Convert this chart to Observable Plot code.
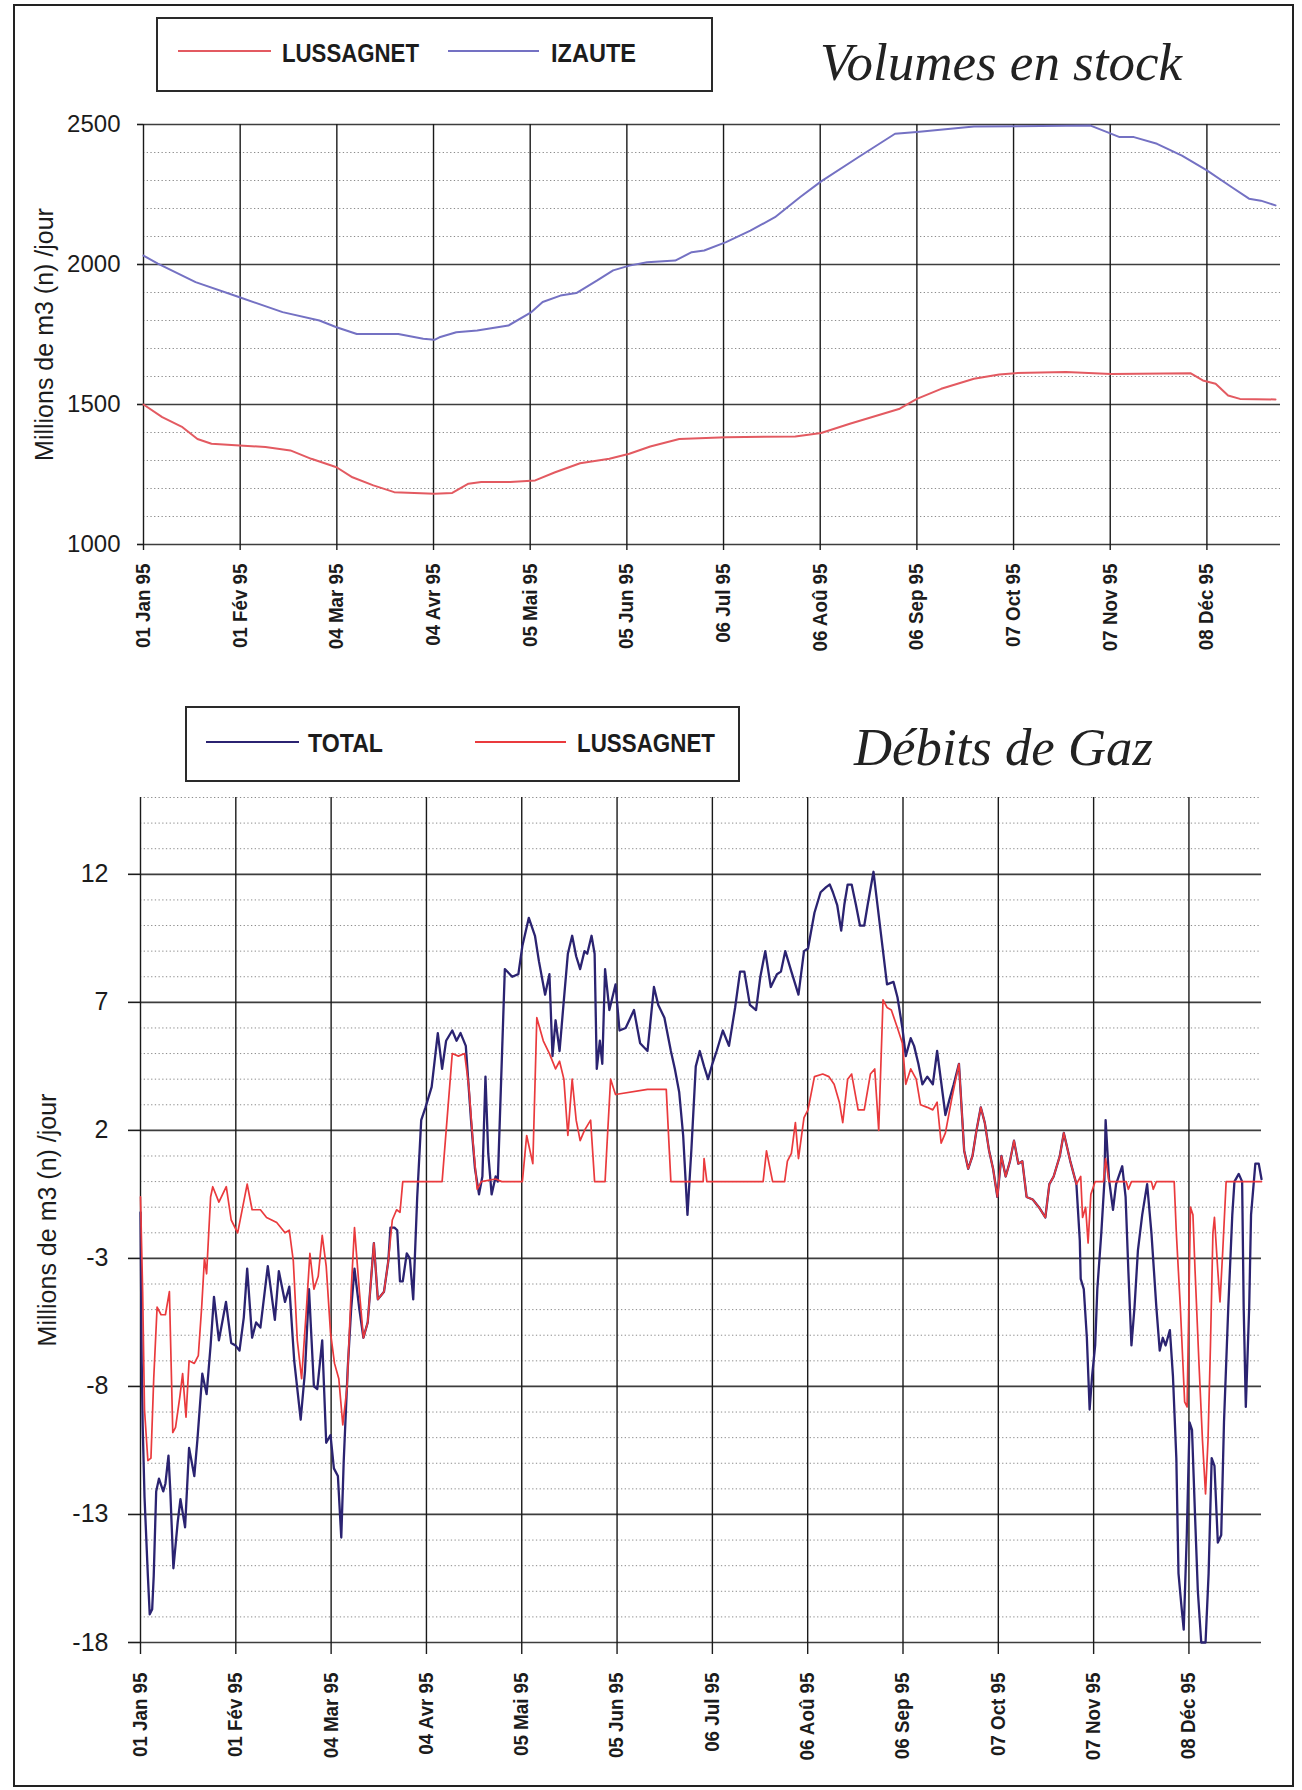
<!DOCTYPE html>
<html>
<head>
<meta charset="utf-8">
<script src="https://cdn.jsdelivr.net/npm/d3@7"></script>
<script src="https://cdn.jsdelivr.net/npm/@observablehq/plot@0.6"></script>
<style>
  html, body { margin: 0; padding: 0; background: #fff; }
  #page { position: relative; width: 1302px; height: 1790px; overflow: hidden; background: #fff; }
  #page > svg { position: absolute; left: 0; }
</style>
</head>
<body>
<div id="page"></div>
<script>
// ---- Axis ticks (days counted from 1 Jan 1995) ----
const tickDays = [0, 31, 62, 93, 124, 155, 186, 217, 248, 279, 310, 341];
const tickLabels = ["01 Jan 95", "01 Fév 95", "04 Mar 95", "04 Avr 95", "05 Mai 95", "05 Jun 95",
                    "06 Jul 95", "06 Aoû 95", "06 Sep 95", "07 Oct 95", "07 Nov 95", "08 Déc 95"];
const yearEndDay = 364.6;

const yTitle = "Millions de m3 (n) /jour";

// ---- Volumes en stock : [day, volume] ----
const stockLussagnet = [
  [0,1500],[6,1455],[12.5,1419],[17.3,1377],[21.8,1360],[30.8,1354],[39.1,1348],[47.1,1336],
  [53.8,1306],[61.9,1276],[67,1240],[73.7,1211],[80.4,1187],[93.3,1181],[99,1184],[104.2,1217],
  [108.3,1223],[117.6,1223],[125.6,1229],[132,1258],[140,1290],[149.4,1306],[155.8,1324],
  [162.5,1350],[171.8,1377],[186.8,1383],[209,1386],[217.3,1398],[226.5,1431],[242.5,1485],
  [248,1520],[255.8,1556],[266.3,1592],[274.4,1607],[279.5,1612],[295.8,1616],[310.3,1609],
  [335.7,1612],[339.7,1586],[343.8,1574],[347.8,1532],[351.6,1520],[363,1518]
];
const stockIzaute = [
  [0,2032],[4.6,2003],[16.7,1937],[30.8,1883],[44.6,1830],[56.4,1800],[61.9,1776],[68.4,1752],
  [81.7,1752],[89.7,1735],[93.3,1731],[94.9,1740],[100.3,1758],[107,1764],[117,1782],[124.4,1830],
  [128,1866],[133.7,1889],[138.8,1898],[145.5,1943],[150.6,1979],[155.8,1996],[161.5,2008],
  [170.5,2014],[175.8,2044],[179.8,2050],[186.8,2080],[194.6,2121],[202.5,2169],[210.5,2240],
  [217.3,2297],[229.2,2383],[241,2467],[248,2473],[266.3,2493],[303.7,2496],[309,2473],[313,2455],
  [317.6,2455],[325,2431],[333,2389],[341,2336],[349,2276],[354.5,2235],[358.3,2228],[363,2211]
];

// ---- Débits de gaz : [day, débit] ----
const debitTotal = [
  [0,-1.2],[0.4,-7.1],[0.7,-9.5],[1.3,-12.3],[2.4,-15.4],[3,-16.9],[3.8,-16.7],[4.3,-15.4],[5.1,-12.1],
  [6,-11.6],[7.4,-12.1],[8.1,-11.8],[9.1,-10.7],[9.7,-12.1],[10.7,-15.1],[12.1,-13.3],[13,-12.4],
  [14.5,-13.5],[15.8,-10.4],[17.5,-11.5],[18.5,-10.1],[20.1,-7.5],[21.5,-8.3],[22.8,-6.4],[23.9,-4.5],
  [25.5,-6.2],[27.8,-4.7],[29.5,-6.3],[30.9,-6.4],[32.2,-6.6],[33.6,-5.3],[34.7,-3.4],[36.3,-6.1],
  [37.6,-5.5],[39,-5.7],[41.4,-3.3],[43.7,-5.4],[45,-3.5],[47,-4.7],[48.4,-4.1],[50,-7.0],[52.1,-9.3],
  [53.5,-7.4],[54.8,-4.2],[56.4,-8.0],[57.5,-8.1],[59.1,-6.2],[60.4,-10.2],[61.8,-9.9],[62.9,-11.2],
  [64.2,-11.5],[65.3,-13.9],[66.1,-10.9],[67.4,-7.3],[68.5,-5.0],[69.6,-3.4],[71.2,-5.0],[72.5,-6.1],
  [73.9,-5.5],[75.9,-2.4],[77.2,-4.6],[79.2,-4.3],[80.6,-3.1],[81.3,-1.8],[82.6,-1.8],[83.5,-1.9],
  [84.4,-3.9],[85.3,-3.9],[86.6,-2.8],[87.6,-3.0],[88.7,-4.6],[90,-0.6],[91.3,2.4],[92.7,2.9],[94.7,3.7],
  [96.7,5.8],[98.1,4.4],[99.4,5.5],[101.4,5.9],[102.8,5.5],[104.1,5.8],[105.8,5.3],[107.5,2.4],
  [108.8,0.5],[110.1,-0.5],[111.2,0.2],[112.2,4.1],[113.1,1.1],[114.2,-0.5],[115.5,0.2],[116.2,0],
  [118.5,8.3],[120.9,8.0],[122.9,8.1],[124.2,9.2],[126.3,10.3],[128.3,9.6],[129.6,8.6],[131.6,7.3],
  [133,8.1],[134,4.9],[135,6.3],[136.3,5.1],[137.7,7.1],[139,8.9],[140.4,9.6],[141.7,8.8],[143,8.3],
  [144.4,9.0],[145.3,8.9],[146.7,9.6],[147.7,8.9],[148.4,4.4],[149.4,5.5],[150.2,4.6],[151.1,8.3],
  [152.5,6.7],[154.5,7.7],[155.8,5.9],[157.8,6.0],[160.5,6.7],[162.5,5.4],[164.9,5.1],[167,7.6],
  [168.4,6.9],[170.4,6.4],[172.5,5.1],[173.8,4.4],[175.2,3.5],[176.5,1.8],[177.9,-1.3],[179.2,1.3],
  [180.6,4.5],[181.9,5.1],[183.3,4.5],[184.6,4.0],[186,4.6],[187.4,5.1],[189.4,5.9],[191.4,5.3],
  [193.4,6.8],[195,8.2],[196.4,8.2],[198.2,6.9],[200.2,6.7],[201.6,8.0],[203.2,9.0],[205,7.6],[207,8.1],
  [208.3,8.2],[209.7,9.0],[211.7,8.2],[214,7.3],[215.8,9.0],[217.1,9.1],[219.2,10.5],[221.2,11.3],
  [223,11.5],[224.2,11.6],[225.2,11.3],[226.6,10.8],[227.9,9.8],[228.9,10.8],[230,11.6],[231.3,11.6],
  [232.7,10.8],[234,10.0],[235.4,10.0],[236.5,10.8],[238.4,12.1],[239.7,10.8],[241.5,9.0],[242.8,7.7],
  [244.9,7.8],[246.2,7.2],[247.8,6.0],[248.9,4.9],[250.5,5.6],[251.6,5.3],[253,4.6],[254.3,3.8],
  [255.9,4.1],[257.7,3.8],[259.1,5.1],[261.8,2.6],[263.1,3.2],[264.5,3.8],[266.2,4.6],[267.9,1.2],
  [269.2,0.5],[270.6,1.0],[271.9,2.0],[273.3,2.9],[274.6,2.3],[276,1.2],[277.3,0.5],[278.7,-0.6],
  [280,1.0],[281.4,0.2],[282.8,0.8],[284.1,1.6],[285.5,0.7],[286.8,0.8],[288.2,-0.6],[290.2,-0.7],
  [292.2,-1.0],[294.3,-1.4],[295.6,-0.1],[297,0.2],[299,1.0],[300.3,1.9],[302.4,0.8],[304.4,-0.1],
  [305.5,-2.3],[305.8,-3.8],[306.8,-4.2],[307.8,-6.1],[308.7,-8.9],[309.5,-7.6],[310.5,-6.4],
  [311.2,-4.2],[312.5,-2.0],[313.5,0],[313.9,2.4],[315,0.1],[316.3,-1.1],[317.3,-0.1],[319.3,0.6],
  [320.4,-0.6],[321.3,-3.5],[322.3,-6.4],[323.3,-4.9],[324.4,-2.7],[325.8,-1.3],[327.4,-0.1],
  [328.8,-2.0],[330.4,-4.9],[331.5,-6.6],[332.5,-6.1],[333.4,-6.4],[334.8,-5.8],[335.8,-7.6],
  [336.9,-10.8],[337.6,-15.3],[338.5,-16.5],[339.3,-17.5],[340.3,-13.8],[341.2,-9.4],[342,-9.7],
  [343,-13.1],[343.9,-16.0],[345,-18.0],[346.4,-18.0],[347.4,-15.3],[348.4,-10.8],[349.3,-11.1],
  [350.4,-14.1],[351.5,-13.8],[352.4,-9.4],[353.8,-4.9],[355.1,-1.3],[355.8,0],[357.2,0.3],[358.3,0],
  [358.8,-4.9],[359.5,-8.8],[360.6,-4.9],[361.2,-1.3],[362.6,0.7],[363.7,0.7],[364.6,0.1]
];
const debitLussagnet = [
  [0,-0.6],[0.7,-4.3],[1.3,-8.9],[2.4,-10.9],[3.4,-10.8],[4.3,-7.7],[5.4,-4.9],[6.7,-5.2],[8.1,-5.2],
  [9.4,-4.3],[10.5,-9.8],[11.4,-9.6],[12.8,-8.4],[13.7,-7.5],[14.8,-9.2],[15.8,-7.0],[17.5,-7.1],
  [18.8,-6.8],[19.9,-4.9],[20.8,-3.0],[21.5,-3.6],[22.8,-0.6],[23.5,-0.2],[25.5,-0.8],[27.9,-0.2],
  [29.5,-1.5],[31.6,-2.0],[34.7,-0.1],[36.3,-1.1],[39,-1.1],[41,-1.4],[44.3,-1.6],[47,-2.0],[48.4,-1.9],
  [49.7,-3.1],[51,-6.2],[52.4,-7.7],[54,-4.9],[55.1,-2.8],[56.4,-4.2],[57.8,-3.7],[59.1,-2.1],
  [60.4,-3.3],[61.8,-5.9],[63.1,-7.1],[64.5,-7.7],[65.8,-9.5],[67.2,-8.0],[68.5,-4.3],[69.6,-1.8],
  [71.2,-4.3],[72.5,-6.1],[73.9,-5.5],[75.9,-2.4],[77.2,-4.6],[79.2,-4.3],[80.6,-3.1],[81.9,-1.5],
  [83.3,-1.1],[84.4,-1.2],[85.3,0],[98.1,0],[101.4,5.0],[103.4,4.9],[105.4,5.0],[106.8,3.7],[108.1,1.6],
  [109.5,-0.3],[110.8,0],[115.5,0.1],[117.5,0],[124.2,0],[125.6,1.8],[127.6,0.7],[128.9,6.4],[131,5.5],
  [133,5.0],[135,4.4],[136.3,4.7],[137.7,4.0],[139,1.8],[140.4,4.0],[141.7,2.4],[143,1.6],[144.4,2.0],
  [146.4,2.4],[147.7,0],[151.1,0],[151.8,1.6],[152.9,4.0],[154.5,3.4],[164.9,3.6],[171,3.6],[172.5,0],
  [183,0],[183.3,0.9],[184.2,0],[202.5,0],[203.6,1.2],[205.6,0],[209.5,0],[210.4,0.8],[211.7,1.1],
  [213,2.3],[214,0.9],[215.8,2.5],[217.1,2.8],[219.2,4.1],[221.9,4.2],[223.9,4.1],[225.6,3.8],
  [227.3,3.1],[228.4,2.3],[230,4.0],[231.3,4.2],[233.4,2.8],[235.4,2.8],[237.4,4.2],[238.8,4.4],
  [240.1,2.0],[241.5,7.1],[242.8,6.8],[244.2,6.7],[246.2,6.0],[247.8,5.4],[248.9,3.8],[250.5,4.4],
  [252.3,4.0],[253.7,3.0],[255.9,2.9],[257.7,2.8],[259.1,3.1],[260.4,1.5],[261.8,1.9],[263.8,3.2],
  [266.2,4.6],[267.9,1.2],[269.2,0.5],[270.6,1.0],[271.9,2.0],[273.3,2.9],[274.6,2.3],[276,1.2],
  [277.3,0.5],[278.7,-0.6],[280,1.0],[281.4,0.2],[282.8,0.8],[284.1,1.6],[285.5,0.7],[286.8,0.8],
  [288.2,-0.6],[290.2,-0.7],[292.2,-1.0],[294.3,-1.4],[295.6,-0.1],[297,0.2],[299,1.0],[300.3,1.9],
  [302.4,0.8],[304.4,-0.1],[305.8,0.2],[306.4,-1.4],[307.4,-1.0],[308.2,-2.4],[309.1,-0.5],[310.5,0],
  [313.2,0],[313.9,0.9],[315,0],[320.6,0],[321.3,-0.3],[322.3,0],[328.8,0],[329.4,-0.3],[330.4,0],
  [336.2,0],[336.9,-2.0],[338.2,-4.9],[339.6,-8.6],[340.4,-8.8],[341.5,-1.0],[342.3,-1.3],[343,-3.5],
  [344.3,-7.2],[345.4,-10.1],[346.4,-12.2],[347.2,-10.1],[348,-6.4],[348.8,-2.0],[349.3,-1.4],
  [350.4,-3.5],[351.1,-4.7],[352,-2.7],[353.1,0],[364.6,0]
];

// ---- Gridline levels ----
const stockMajor = [1000, 1500, 2000, 2500];
const stockMinor = d3.range(1100, 2500, 100).filter(v => v % 500 !== 0);
const debitMajor = [-18, -13, -8, -3, 2, 7, 12];
const debitMinor = d3.range(-17, 16).filter(v => !debitMajor.includes(v));

// ---- Styling ----
const SANS = "'Liberation Sans', Arial, Helvetica, sans-serif";
const SERIF = "'Liberation Serif', 'Times New Roman', serif";
const INK = "#1c1c1c";
const colors = {
  stockLussagnet: "#e35a61",
  stockIzaute: "#7471c3",
  debitTotal: "#2b2371",
  debitLussagnet: "#ea3a3d"
};

const base = Date.UTC(1995, 0, 1);
const toDate = d => new Date(base + d * 864e5);
const tickDates = tickDays.map(toDate);
const labelOf = new Map(tickDays.map((d, i) => [+toDate(d), tickLabels[i]]));
const rows = pairs => pairs.map(([d, v]) => ({date: toDate(d), value: v}));

const page = document.getElementById("page");

function panel({top, height, margins, yDomain, major, minor, tickLen, yPad, xPad, yFont, titleDx, series}) {
  const chart = Plot.plot({
    width: 1302,
    height,
    ...margins,
    style: {fontFamily: SANS, color: INK, background: "transparent"},
    x: {type: "utc", domain: [toDate(0), toDate(yearEndDay)]},
    y: {domain: yDomain},
    marks: [
      Plot.ruleY(minor, {stroke: "#8c8c8c", strokeWidth: 1, strokeDasharray: "1.3,2.4"}),
      Plot.ruleY(major, {stroke: "#3d3d3d", strokeWidth: 1.7}),
      Plot.ruleX(tickDates, {stroke: "#1a1a1a", strokeWidth: 1.4}),
      Plot.axisY({ticks: major, tickSize: tickLen, tickPadding: yPad, fontSize: yFont,
                  strokeWidth: 1.6, tickFormat: d => String(d), label: null}),
      Plot.axisX({ticks: tickDates, tickSize: tickLen, tickPadding: xPad, tickRotate: -90,
                  fontSize: 20, fontWeight: "bold", strokeWidth: 1.4,
                  tickFormat: d => labelOf.get(+d), label: null}),
      Plot.text([yTitle], {text: d => d, frameAnchor: "left", dx: titleDx, rotate: -90,
                           textAnchor: "middle", fontSize: 25, fill: INK}),
      ...series.map(s => Plot.line(rows(s.data), {x: "date", y: "value", stroke: s.color,
                    strokeWidth: s.width, strokeLinejoin: "round"}))
    ]
  });
  // slightly narrow the rotated date labels along their reading direction
  d3.select(chart).selectAll('g[aria-label="x-axis tick label"] text')
    .attr("transform", function () { return this.getAttribute("transform") + " scale(0.94,1)"; });
  chart.style.top = top + "px";
  page.appendChild(chart);
}

// Volumes en stock
panel({
  top: 0, height: 680,
  margins: {marginTop: 124, marginBottom: 136, marginLeft: 143, marginRight: 22},
  yDomain: [1000, 2500], major: stockMajor, minor: stockMinor,
  tickLen: 6, yPad: 17, xPad: 13, yFont: 24, titleDx: -99,
  series: [
    {data: stockLussagnet, color: colors.stockLussagnet, width: 2},
    {data: stockIzaute, color: colors.stockIzaute, width: 2}
  ]
});

// Débits de gaz
panel({
  top: 690, height: 1100,
  margins: {marginTop: 107, marginBottom: 148, marginLeft: 140, marginRight: 41},
  yDomain: [-18, 15], major: debitMajor, minor: debitMinor,
  tickLen: 12, yPad: 20, xPad: 18, yFont: 25, titleDx: -93,
  series: [
    {data: debitTotal, color: colors.debitTotal, width: 2.3},
    {data: debitLussagnet, color: colors.debitLussagnet, width: 1.7}
  ]
});

// ---- Frame, legends and titles ----
const legends = [
  {box: [157, 18, 555, 73], lineY: 51, baseY: 62, items: [
    {label: "LUSSAGNET", color: colors.stockLussagnet, x1: 178, x2: 271, tx: 282, w: 137},
    {label: "IZAUTE", color: colors.stockIzaute, x1: 448, x2: 539, tx: 551, w: 85}
  ]},
  {box: [186, 707, 553, 74], lineY: 742, baseY: 752, items: [
    {label: "TOTAL", color: colors.debitTotal, x1: 206, x2: 299, tx: 308, w: 75},
    {label: "LUSSAGNET", color: colors.debitLussagnet, x1: 475, x2: 566, tx: 577, w: 138}
  ]}
];
const titles = [
  {text: "Volumes en stock", x: 820, y: 80, w: 362},
  {text: "Débits de Gaz", x: 854, y: 765, w: 299}
];

const overlay = d3.select(page).append("svg")
  .attr("width", 1302).attr("height", 1790)
  .style("top", "0px").style("pointer-events", "none");

overlay.append("rect")
  .attr("x", 14).attr("y", 5).attr("width", 1279).attr("height", 1781)
  .attr("fill", "none").attr("stroke", "#222").attr("stroke-width", 2);

for (const lg of legends) {
  const [bx, by, bw, bh] = lg.box;
  overlay.append("rect").attr("x", bx).attr("y", by).attr("width", bw).attr("height", bh)
    .attr("fill", "#fff").attr("stroke", "#2a2a2a").attr("stroke-width", 2);
  for (const it of lg.items) {
    overlay.append("line").attr("x1", it.x1).attr("x2", it.x2).attr("y1", lg.lineY).attr("y2", lg.lineY)
      .attr("stroke", it.color).attr("stroke-width", 2);
    overlay.append("text").attr("x", it.tx).attr("y", lg.baseY)
      .attr("font-family", SANS).attr("font-weight", 700).attr("font-size", 25).attr("fill", INK)
      .attr("textLength", it.w).attr("lengthAdjust", "spacingAndGlyphs")
      .text(it.label);
  }
}

for (const t of titles) {
  overlay.append("text").attr("x", t.x).attr("y", t.y)
    .attr("font-family", SERIF).attr("font-style", "italic").attr("font-size", 52).attr("fill", "#222")
    .attr("textLength", t.w).attr("lengthAdjust", "spacingAndGlyphs")
    .text(t.text);
}
</script>
</body>
</html>
